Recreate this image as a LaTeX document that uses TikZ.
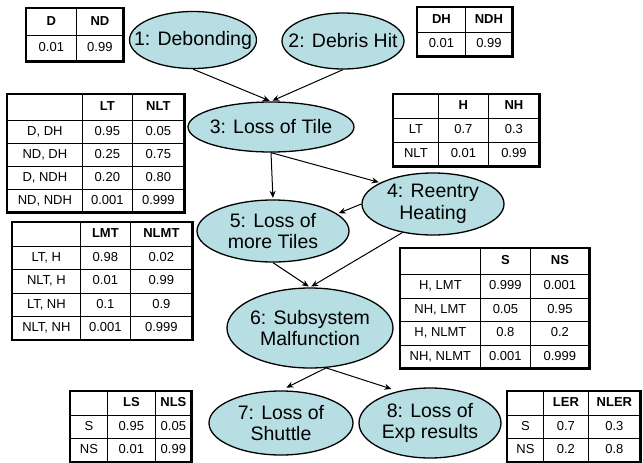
\documentclass[tikz,border=0pt]{standalone}
\usepackage{fontspec}
\setmainfont{Liberation Sans}
\usetikzlibrary{matrix,shapes.geometric,arrows.meta}
\newcommand\tabfont{\fontsize{13}{15}\selectfont}
\newcommand\bnfont{\fontsize{19.5}{21.5}\selectfont}
\definecolor{bnfill}{RGB}{183,222,226}
\tikzset{
  bn/.style={ellipse, draw=black, line width=1.3pt, fill=bnfill, inner xsep=-25pt, inner ysep=-15pt, align=center, font=\bnfont},
  cell/.style={draw, line width=0.8pt, inner sep=0pt, outer sep=0pt, font=\tabfont, text height=9.3pt, text depth=2.6pt, anchor=center},
  cpt/.style={matrix of nodes, nodes in empty cells, inner sep=0pt, outer sep=0pt, column sep=-0.8pt, row sep=-0.8pt, nodes={cell}, draw, line width=2.8pt, anchor=north west},
  arr/.style={-{Stealth[length=7pt,width=6pt]}, line width=1pt, shorten >=1.5pt},
}
\begin{document}
\begin{tikzpicture}[x=1pt,y=-1pt]
\useasboundingbox (0,0) rectangle (643,463);

% ---------- nodes ----------
\node[bn, minimum width=127pt, minimum height=57pt] (n1) at (193,40) {1: Debonding};
\node[bn, minimum width=122pt, minimum height=56pt] (n2) at (343,41) {2: Debris Hit};
\node[bn, minimum width=166pt, minimum height=50pt] (n3) at (271,127) {3: Loss of Tile};
\node[bn, minimum width=142pt, minimum height=62pt] (n4) at (433,204) {4: Reentry\\Heating};
\node[bn, minimum width=152pt, minimum height=62pt] (n5) at (273,231) {5: Loss of\\more Tiles};
\node[bn, minimum width=166pt, minimum height=80pt] (n6) at (310,328) {6: Subsystem\\Malfunction};
\node[bn, minimum width=144pt, minimum height=64pt] (n7) at (281,423) {7: Loss of\\Shuttle};
\node[bn, minimum width=142pt, minimum height=70pt] (n8) at (430,423) {8: Loss of\\Exp results};

% ---------- connectors ----------
\draw[arr] (n1.south) -- (n3.north);
\draw[arr] (n2.south) -- (n3.north);
\draw[arr] (n3.south) -- (n5.north);
\draw[arr] (n3.south) -- (n4.158);
\draw[arr] (n4.west) -- (n5.15);
\draw[arr] (n5.south) -- (n6.north);
\draw[arr] (n4.223) -- (n6.north);
\draw[arr, shorten >=6pt] (n6.-68) -- (n7.north);
\draw[arr, shorten >=7pt] (n6.-68) -- (n8.135);

% ---------- tables ----------
\matrix[cpt,
  column 1/.style={nodes={minimum width=50pt}},
  column 2/.style={nodes={minimum width=47pt}},
  nodes={minimum height=26.5pt}] (t1) at (26,8) {
  \textbf{D} & \textbf{ND} \\
  0.01 & 0.99 \\
};

\matrix[cpt,
  column 1/.style={nodes={minimum width=48pt}},
  column 2/.style={nodes={minimum width=47pt}},
  nodes={minimum height=24.5pt}] (t2) at (417,7) {
  \textbf{DH} & \textbf{NDH} \\
  0.01 & 0.99 \\
};

\matrix[cpt,
  column 1/.style={nodes={minimum width=75pt}},
  column 2/.style={nodes={minimum width=50pt}},
  column 3/.style={nodes={minimum width=52pt}},
  nodes={minimum height=23pt},
  row 1/.style={nodes={minimum height=26pt}}] (t3) at (7,94) {
  & \textbf{LT} & \textbf{NLT} \\
  D, DH & 0.95 & 0.05 \\
  ND, DH & 0.25 & 0.75 \\
  D, NDH & 0.20 & 0.80 \\
  ND, NDH & 0.001 & 0.999 \\
};

\matrix[cpt,
  column 1/.style={nodes={minimum width=45pt}},
  column 2/.style={nodes={minimum width=50pt}},
  column 3/.style={nodes={minimum width=51pt}},
  nodes={minimum height=24pt}] (t4) at (393,94) {
  & \textbf{H} & \textbf{NH} \\
  LT & 0.7 & 0.3 \\
  NLT & 0.01 & 0.99 \\
};

\matrix[cpt,
  column 1/.style={nodes={minimum width=68pt}},
  column 2/.style={nodes={minimum width=50pt}},
  column 3/.style={nodes={minimum width=62pt}},
  nodes={minimum height=23.3pt},
  row 1/.style={nodes={minimum height=24pt}}] (t5) at (12,222) {
  & \textbf{LMT} & \textbf{NLMT} \\
  LT, H & 0.98 & 0.02 \\
  NLT, H & 0.01 & 0.99 \\
  LT, NH & 0.1 & 0.9 \\
  NLT, NH & 0.001 & 0.999 \\
};

\matrix[cpt,
  column 1/.style={nodes={minimum width=80pt}},
  column 2/.style={nodes={minimum width=50pt}},
  column 3/.style={nodes={minimum width=59pt}},
  nodes={minimum height=23.5pt},
  row 1/.style={nodes={minimum height=26pt}}] (t6) at (400,248) {
  & \textbf{S} & \textbf{NS} \\
  H, LMT & 0.999 & 0.001 \\
  NH, LMT & 0.05 & 0.95 \\
  H, NLMT & 0.8 & 0.2 \\
  NH, NLMT & 0.001 & 0.999 \\
};

\matrix[cpt,
  column 1/.style={nodes={minimum width=37pt}},
  column 2/.style={nodes={minimum width=48pt}},
  column 3/.style={nodes={minimum width=36pt}},
  nodes={minimum height=23.5pt}] (t7) at (70,391) {
  & \textbf{LS} & \textbf{NLS} \\
  S & 0.95 & 0.05 \\
  NS & 0.01 & 0.99 \\
};

\matrix[cpt,
  column 1/.style={nodes={minimum width=36pt}},
  column 2/.style={nodes={minimum width=45pt}},
  column 3/.style={nodes={minimum width=52pt}},
  nodes={minimum height=23.5pt}] (t8) at (507,391) {
  & \textbf{LER} & \textbf{NLER} \\
  S & 0.7 & 0.3 \\
  NS & 0.2 & 0.8 \\
};
\end{tikzpicture}
\end{document}
